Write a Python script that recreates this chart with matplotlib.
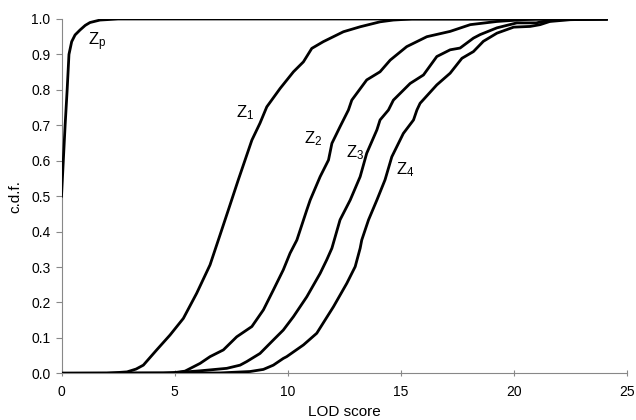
import matplotlib
matplotlib.use("Agg")
import matplotlib.pyplot as plt

plt.rcParams['font.family'] = ['Liberation Sans', 'DejaVu Sans']
plt.rcParams['mathtext.fontset'] = 'custom'
plt.rcParams['mathtext.rm'] = 'Liberation Sans'
plt.rcParams['mathtext.it'] = 'Liberation Sans'

zp_x = [0, 0.08, 0.16, 0.25, 0.33, 0.45, 0.6, 0.82, 1.05, 1.26, 1.7, 2.5, 24.1]
zp_y = [0.5, 0.6, 0.7, 0.8, 0.9, 0.936, 0.955, 0.969, 0.982, 0.99, 0.997, 1.0, 1.0]

z1_x = [0, 2.0, 2.9, 3.3, 3.62, 4.21, 4.80, 5.39, 5.98, 6.57, 7.01, 7.38, 7.82, 8.42,
        8.78, 9.08, 9.67, 10.26, 10.7, 11.07, 11.58, 12.47, 13.21, 14.09, 14.68, 15.5, 24.1]
z1_y = [0, 0, 0.004, 0.012, 0.023, 0.066, 0.108, 0.155, 0.226, 0.306, 0.39, 0.461, 0.546, 0.658,
        0.706, 0.752, 0.804, 0.851, 0.879, 0.917, 0.936, 0.964, 0.978, 0.992, 0.997, 1.0, 1.0]

z2_x = [0, 4.5, 5.0, 5.46, 6.13, 6.57, 7.16, 7.75, 8.42, 8.93, 9.37, 9.81, 10.11, 10.41, 10.85,
        11.0, 11.44, 11.81, 11.96, 12.32, 12.69, 12.84, 13.50, 14.09, 14.54, 15.27, 16.16, 17.19,
        18.08, 19.26, 20.4, 21.0, 24.1]
z2_y = [0, 0, 0.002, 0.006, 0.028, 0.047, 0.066, 0.103, 0.132, 0.179, 0.235, 0.292, 0.339, 0.376, 0.461,
        0.489, 0.555, 0.602, 0.649, 0.696, 0.743, 0.771, 0.828, 0.851, 0.884, 0.922, 0.950, 0.965,
        0.984, 0.993, 0.998, 1.0, 1.0]

z3_x = [0, 4.9, 6.13, 7.31, 7.90, 8.19, 8.78, 9.37, 9.81, 10.26, 10.85, 11.44, 11.73, 11.96, 12.32,
        12.77, 13.21, 13.50, 13.95, 14.09, 14.46, 14.68, 15.42, 16.01, 16.60, 17.19, 17.63, 18.22,
        18.52, 19.26, 20.14, 21.0, 21.3, 22.1, 24.1]
z3_y = [0, 0.001, 0.007, 0.014, 0.023, 0.033, 0.056, 0.094, 0.122, 0.160, 0.216, 0.282, 0.320, 0.353, 0.433,
        0.489, 0.555, 0.621, 0.687, 0.715, 0.743, 0.771, 0.818, 0.842, 0.894, 0.913, 0.918, 0.946,
        0.956, 0.975, 0.989, 0.989, 0.993, 0.998, 1.0]

z4_x = [0, 7.0, 8.34, 8.93, 9.37, 9.81, 9.96, 10.70, 11.29, 12.03, 12.62, 12.99, 13.21, 13.28, 13.58,
        13.95, 14.31, 14.61, 15.12, 15.57, 15.72, 15.86, 16.60, 17.19, 17.71, 18.22, 18.66, 19.26,
        20.0, 20.73, 21.17, 21.6, 22.5, 24.1]
z4_y = [0, 0.001, 0.005, 0.011, 0.023, 0.042, 0.047, 0.08, 0.113, 0.188, 0.254, 0.301, 0.353, 0.376, 0.433,
        0.489, 0.546, 0.611, 0.677, 0.715, 0.743, 0.762, 0.814, 0.847, 0.889, 0.908, 0.937, 0.96,
        0.977, 0.979, 0.984, 0.993, 0.998, 1.0]

labels = [r'$\mathregular{Z_p}$', r'$\mathregular{Z_1}$', r'$\mathregular{Z_2}$',
          r'$\mathregular{Z_3}$', r'$\mathregular{Z_4}$']
label_x = [1.57, 8.12, 11.13, 12.99, 15.2]
label_y = [0.935, 0.735, 0.663, 0.624, 0.574]

fig = plt.figure(figsize=(6.36, 4.2), dpi=100)
ax = fig.add_axes([0.0967, 0.1112, 0.8887, 0.8436])

for xs, ys in [(zp_x, zp_y), (z1_x, z1_y), (z2_x, z2_y), (z3_x, z3_y), (z4_x, z4_y)]:
    ax.plot(xs, ys, color='black', lw=2.0, solid_joinstyle='round', zorder=3)

for t, lx, ly in zip(labels, label_x, label_y):
    ax.text(lx, ly, t, fontsize=12, ha='center', va='center')

ax.set_xlim(0, 25)
ax.set_ylim(0, 1.0)
ax.set_xticks([0, 5, 10, 15, 20, 25])
ax.set_yticks([i / 10 for i in range(11)])
ax.set_yticklabels([f'{i / 10:.1f}' for i in range(11)])

for s in ['top', 'right']:
    ax.spines[s].set_visible(False)
for s in ['left', 'bottom']:
    ax.spines[s].set_color('#888888')
    ax.spines[s].set_linewidth(0.8)

ax.tick_params(axis='x', direction='inout', length=5, width=0.8, color='#888888',
               labelsize=10, pad=6)
ax.tick_params(axis='y', direction='out', length=4, width=0.8, color='#888888',
               labelsize=10, pad=4)

ax.set_xlabel('LOD score', fontsize=11, labelpad=4)
ax.set_ylabel('c.d.f.', fontsize=11, labelpad=6)

fig.savefig('out.png', dpi=100)
